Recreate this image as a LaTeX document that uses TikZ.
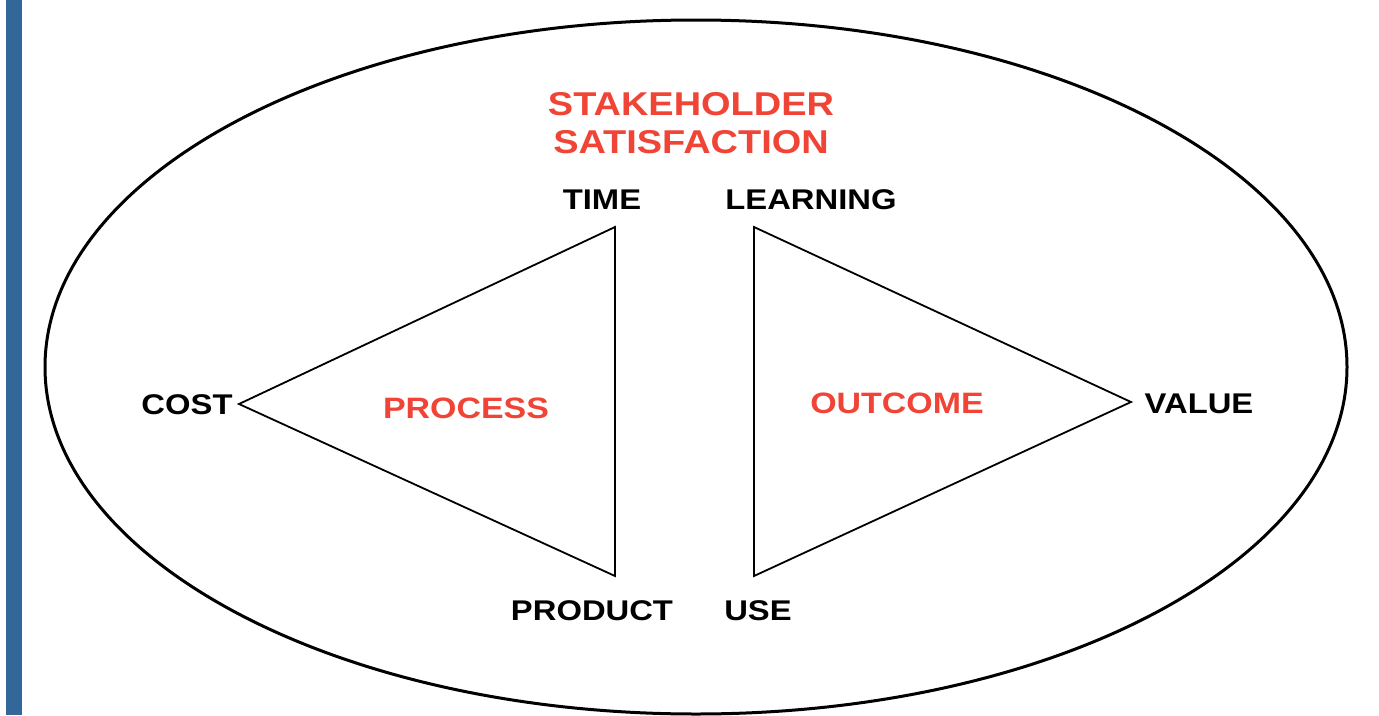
\documentclass[tikz,border=0pt]{standalone}
\usepackage{fontspec}
\setmainfont{Liberation Sans}[FakeStretch=1.15]
\usepackage{tikz}
\usetikzlibrary{calc}
\definecolor{satred}{RGB}{239,68,54}
\definecolor{barblue}{RGB}{51,102,153}
\tikzset{
  labl/.style={anchor=base, inner sep=0pt, font=\bfseries\fontsize{28.5}{32}\selectfont},
  redlabl/.style={labl, text=satred},
  tri/.style={line width=1.8pt, line join=miter}
}
\newcommand{\vlabel}[4]{\node[labl] (#1) at ( #2 , #3 ) {#4};}

\begin{document}
\begin{tikzpicture}[x=1pt,y=-1pt]
        \useasboundingbox (0,0) rectangle (1379,715);
        \fill[barblue] (6,0) rectangle (22,715);
        \draw[line width=3pt] (696,367) ellipse (651 and 347);
        %vertices
        \coordinate (time) at (615,227);
        \coordinate (product) at (615,576);
        \coordinate (cost) at (239,404);
        \coordinate (learning) at (754,227);
        \coordinate (use) at (754,576);
        \coordinate (value) at (1131,402);
        %edges
        \draw[tri] (cost) -- (time) -- (product) -- cycle;
        \draw[tri] (value) -- (learning) -- (use) -- cycle;
        %nodes
        \node[redlabl, font=\bfseries\fontsize{33}{36}\selectfont] (stake) at (691,115) {STAKEHOLDER};
        \node[redlabl, font=\bfseries\fontsize{33}{36}\selectfont] (satis) at (691,153) {SATISFACTION};
        \vlabel{timel}{602}{209}{TIME}
        \vlabel{learnl}{811}{209}{LEARNING}
        \vlabel{costl}{187}{414}{COST}
        \vlabel{valuel}{1199}{413}{VALUE}
        \vlabel{prodl}{592}{620}{PRODUCT}
        \vlabel{usel}{758}{620}{USE}
        \node[redlabl, font=\bfseries\fontsize{29.5}{32}\selectfont] (proc) at (466,418) {PROCESS};
        \node[redlabl, font=\bfseries\fontsize{29.5}{32}\selectfont] (outc) at (897,413) {OUTCOME};
\end{tikzpicture}
\end{document}
